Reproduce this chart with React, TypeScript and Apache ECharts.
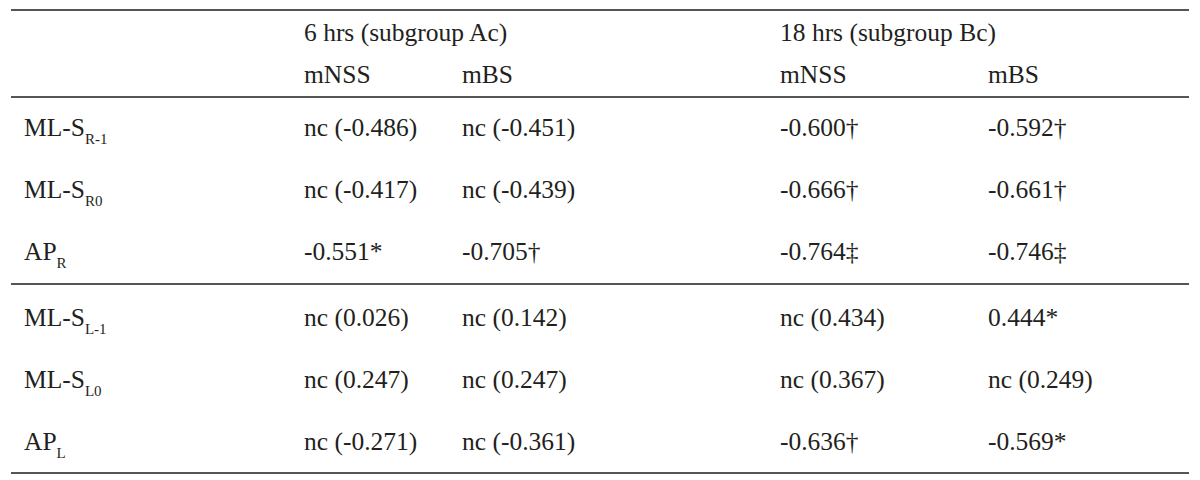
import React, { useEffect, useRef } from "react";
import * as echarts from "echarts";

const groupHeaders = ["6 hrs (subgroup Ac)", "18 hrs (subgroup Bc)"];
const subHeaders = ["mNSS", "mBS", "mNSS", "mBS"];
const rowLabels: [string, string][] = [
  ["ML-S", "R-1"],
  ["ML-S", "R0"],
  ["AP", "R"],
  ["ML-S", "L-1"],
  ["ML-S", "L0"],
  ["AP", "L"],
];
const col6mNSS = ["nc (-0.486)", "nc (-0.417)", "-0.551*", "nc (0.026)", "nc (0.247)", "nc (-0.271)"];
const col6mBS = ["nc (-0.451)", "nc (-0.439)", "-0.705\u2020", "nc (0.142)", "nc (0.247)", "nc (-0.361)"];
const col18mNSS = ["-0.600\u2020", "-0.666\u2020", "-0.764\u2021", "nc (0.434)", "nc (0.367)", "-0.636\u2020"];
const col18mBS = ["-0.592\u2020", "-0.661\u2020", "-0.746\u2021", "0.444*", "nc (0.249)", "-0.569*"];

const FONT = "'Liberation Serif', 'Times New Roman', serif";
const FS = 25.5;
const SUB_FS = 15;
const TEXT_COLOR = "#231f20";
const LINE_COLOR = "#555555";

export default function App() {
  const ref = useRef<HTMLDivElement>(null);
  useEffect(() => {
    document.body.style.margin = "0";
    if (!ref.current) return;
    const chart = echarts.init(ref.current, undefined, { renderer: "svg" });
    const canvas = document.createElement("canvas");
    const ctx = canvas.getContext("2d")!;
    ctx.font = `${FS}px ${FONT}`;

    const colX = [304, 462, 780, 988];
    const labelX = 24;
    const groupX = [304, 780];
    const headerY = [32, 74];
    const rowY = [127, 189, 251, 317, 379, 441];
    const lineY = [10, 97, 284, 473];

    const els: any[] = [];
    lineY.forEach((y) =>
      els.push({
        type: "line",
        shape: { x1: 11, y1: y, x2: 1189, y2: y },
        style: { stroke: LINE_COLOR, lineWidth: 2 },
      })
    );
    const txt = (s: string, x: number, y: number, fs = FS) => ({
      type: "text",
      x,
      y,
      style: {
        text: s,
        font: `${fs}px ${FONT}`,
        fill: TEXT_COLOR,
        textAlign: "left",
        textVerticalAlign: "middle",
      },
    });
    groupHeaders.forEach((h, i) => els.push(txt(h, groupX[i], headerY[0])));
    subHeaders.forEach((h, i) => els.push(txt(h, colX[i], headerY[1])));
    const cols = [col6mNSS, col6mBS, col18mNSS, col18mBS];
    rowLabels.forEach(([main, sub], r) => {
      els.push(txt(main, labelX, rowY[r]));
      const w = ctx.measureText(main).width;
      els.push(txt(sub, labelX + w, rowY[r] + 12, SUB_FS));
      cols.forEach((c, ci) => els.push(txt(c[r], colX[ci], rowY[r])));
    });

    chart.setOption({
      animation: false,
      backgroundColor: "#ffffff",
      graphic: { elements: els },
    });
    return () => chart.dispose();
  }, []);
  return <div ref={ref} style={{ width: 1200, height: 480 }} />;
}
